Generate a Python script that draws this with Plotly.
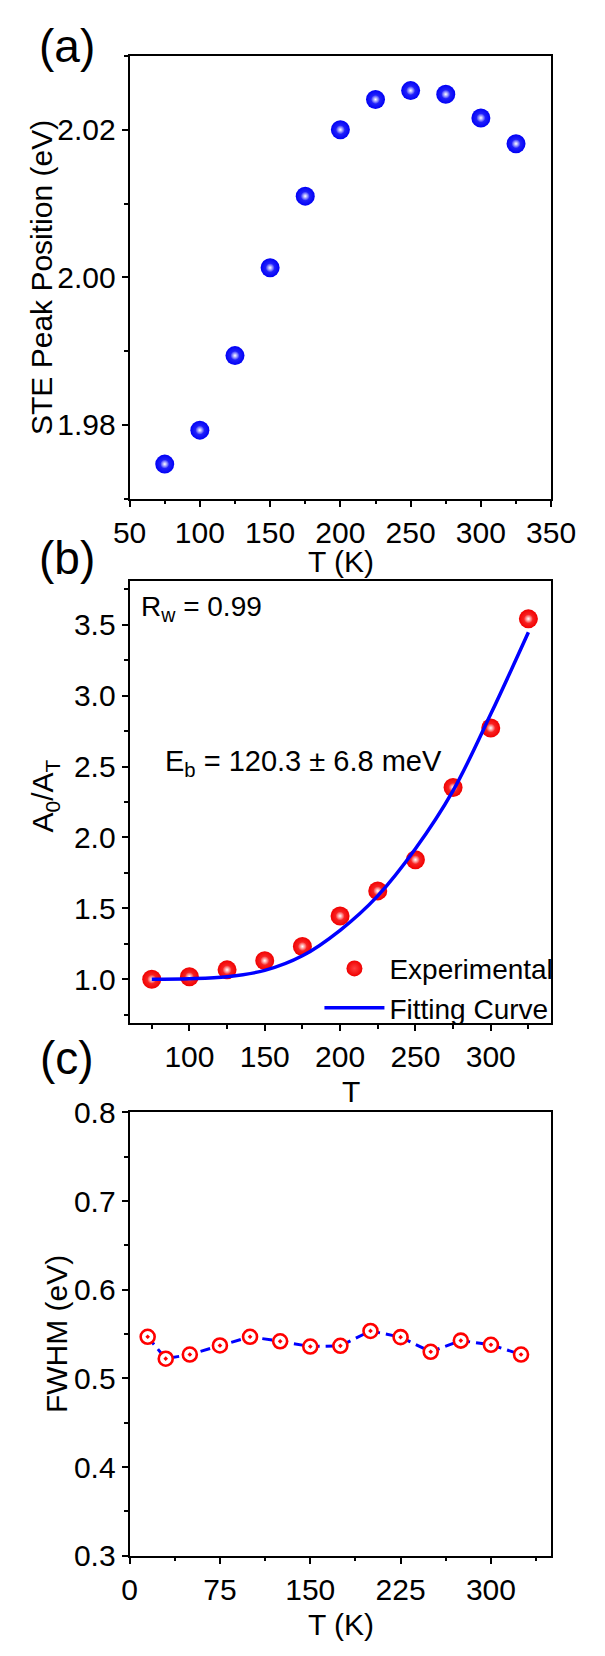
import plotly.graph_objects as go

# ---------------- data ----------------
T_a = [75, 100, 125, 150, 175, 200, 225, 250, 275, 300, 325]
peak_pos = [1.9747, 1.9793, 1.9894, 2.0013, 2.0110, 2.0200, 2.0241, 2.0253, 2.0248, 2.0216, 2.0181]

T_b = [75, 100, 125, 150, 175, 200, 225, 250, 275, 300, 325]
ratio_exp = [1.000, 1.018, 1.066, 1.131, 1.231, 1.446, 1.623, 1.843, 2.353, 2.772, 3.542]
T_fit = [75, 100, 125, 150, 175, 200, 225, 250, 275, 300, 325]
ratio_fit = [1.000, 1.004, 1.018, 1.062, 1.165, 1.345, 1.588, 1.920, 2.330, 2.870, 3.447]

T_c = [15, 30, 50, 75, 100, 125, 150, 175, 200, 225, 250, 275, 300, 325]
fwhm = [0.5469, 0.5222, 0.5269, 0.5371, 0.5469, 0.5418, 0.5359, 0.5367, 0.5535, 0.5465, 0.5300, 0.5426, 0.5379, 0.5269]

W, H = 605, 1656
FONT = "Liberation Sans"
TICK_FS = 30
TITLE_FS = 30


def px(x):
    return x / W


def py(y):
    return 1 - y / H


fig = go.Figure()

MS = 19
highlight = dict(size=9, color="rgba(255,255,255,0)",
                 gradient=dict(type="radial", color="rgba(255,255,255,1)"), line=dict(width=0))

# (a) spheres
fig.add_trace(go.Scatter(x=T_a, y=peak_pos, mode="markers",
                         marker=dict(size=MS, color="#0000F5", line=dict(width=0),
                                     gradient=dict(type="radial", color="#3C3CFF")),
                         xaxis="x", yaxis="y", showlegend=False, hoverinfo="skip"))
fig.add_trace(go.Scatter(x=T_a, y=peak_pos, mode="markers", marker=highlight,
                         xaxis="x", yaxis="y", showlegend=False, hoverinfo="skip"))

# (b) spheres + fit
fig.add_trace(go.Scatter(x=T_b, y=ratio_exp, mode="markers",
                         marker=dict(size=MS, color="#F00000", line=dict(width=0),
                                     gradient=dict(type="radial", color="#FF4040")),
                         name="Experimental", xaxis="x2", yaxis="y2", showlegend=True))
fig.add_trace(go.Scatter(x=T_b, y=ratio_exp, mode="markers", marker=highlight,
                         xaxis="x2", yaxis="y2", showlegend=False, hoverinfo="skip"))
fig.add_trace(go.Scatter(x=T_fit, y=ratio_fit, mode="lines",
                         line=dict(color="#0000FF", width=3.5, shape="spline"),
                         name="Fitting Curve", xaxis="x2", yaxis="y2", showlegend=True))

# (c)
fig.add_trace(go.Scatter(x=T_c, y=fwhm, mode="lines+markers",
                         line=dict(color="#0000FF", width=3, dash="10px,6px"),
                         marker=dict(symbol="circle-dot", size=14, color="#FFFFFF",
                                     line=dict(color="#FF0000", width=2.6)),
                         xaxis="x3", yaxis="y3", showlegend=False))

xdom = [px(121), px(574)]


def minor(dt, t0):
    return dict(ticks="outside", ticklen=3.5, tickwidth=2, tickcolor="black", dtick=dt, tick0=t0)


def axis_common(**kw):
    d = dict(showline=True, linewidth=2, linecolor="black", mirror=True,
             showgrid=False, zeroline=False, ticks="outside", ticklen=6, tickwidth=2,
             tickcolor="black", tickfont=dict(family=FONT, size=TICK_FS, color="black"))
    d.update(kw)
    return d


layout = dict(
    width=W, height=H, margin=dict(l=0, r=0, t=0, b=0),
    paper_bgcolor="white", plot_bgcolor="white",
    font=dict(family=FONT, color="black"),
    xaxis=axis_common(domain=xdom, anchor="y", range=[50, 350], tick0=50, dtick=50,
                      minor=minor(25, 50)),
    yaxis=axis_common(domain=[py(492.3), py(40.7)], anchor="x", range=[1.97, 2.03], tick0=1.98,
                      dtick=0.02, tickformat=".2f", minor=minor(0.01, 1.98)),
    xaxis2=axis_common(domain=xdom, anchor="y2", range=[60.3, 340.1], tick0=0, dtick=50,
                       minor=minor(25, 0)),
    yaxis2=axis_common(domain=[py(1027), py(576)], anchor="x2", range=[0.69, 3.81], tick0=0,
                       dtick=0.5, tickformat=".1f", minor=minor(0.25, 0)),
    xaxis3=axis_common(domain=xdom, anchor="y3", range=[0, 350], tick0=0, dtick=75,
                       minor=minor(37.5, 0)),
    yaxis3=axis_common(domain=[py(1570), py(1118)], anchor="x3", range=[0.3, 0.8], tick0=0.3,
                       dtick=0.1, tickformat=".1f", minor=minor(0.05, 0.3)),
    legend=dict(x=px(325), y=py(946), xanchor="left", yanchor="top",
                font=dict(family=FONT, size=28, color="black"), itemwidth=60,
                bgcolor="rgba(0,0,0,0)", borderwidth=0, tracegroupgap=0),
)
fig.update_layout(**layout)


def ann(text, x, y, size, angle=0, xanchor="center"):
    fig.add_annotation(text=text, x=px(x), y=py(y), xref="paper", yref="paper",
                       showarrow=False, textangle=angle, xanchor=xanchor, yanchor="middle",
                       font=dict(family=FONT, size=size, color="black"))


# panel labels
ann("(a)", 54, 31, 46)
ann("(b)", 54, 553, 46)
ann("(c)", 54, 1063, 46)

# axis titles
ann("STE Peak Position (eV)", 27, 267, TITLE_FS, angle=-90)
ann("T (K)", 348, 556, TITLE_FS)
ann("A<sub>0</sub>/A<sub>T</sub>", 30, 795, TITLE_FS, angle=-90)
ann("T", 359, 1097, TITLE_FS)
ann("FWHM (eV)", 42, 1344, TITLE_FS, angle=-90)
ann("T (K)", 348, 1640, TITLE_FS)

# text annotations in (b)
ann("R<sub>w</sub> = 0.99", 131, 604, 28, xanchor="left")
ann("E<sub>b</sub> = 120.3 ± 6.8 meV", 157, 762, 29, xanchor="left")

fig.write_html("out.html")
